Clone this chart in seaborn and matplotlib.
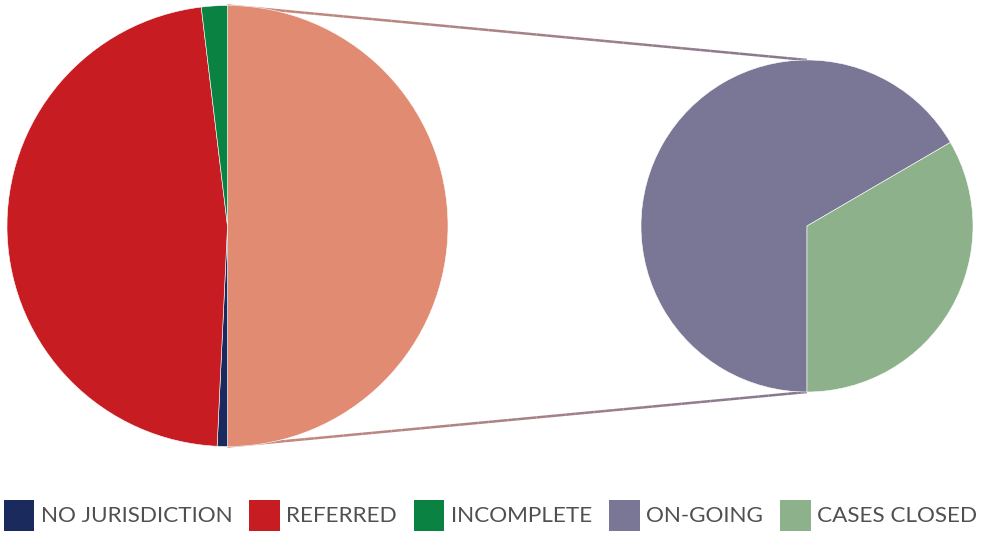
import numpy as np
import matplotlib
matplotlib.use("Agg")
import matplotlib.pyplot as plt
import seaborn as sns
from matplotlib.patches import Patch
from matplotlib.collections import LineCollection
from matplotlib.colors import to_rgb

sns.set_theme(style="white")
plt.rcParams['font.family'] = ['Lato', 'DejaVu Sans']

# Data
main_labels = ["ON-GOING + CASES CLOSED", "NO JURISDICTION", "REFERRED", "INCOMPLETE"]
main_values = [50.0, 0.75, 47.35, 1.9]
main_colors = ["#e08b72", "#1b2a5c", "#c81c23", "#0a8342"]

sub_labels = ["ON-GOING", "CASES CLOSED"]
sub_values = [66.6, 33.4]
sub_colors = ["#797795", "#8db28b"]

legend_labels = ["NO JURISDICTION", "REFERRED", "INCOMPLETE", "ON-GOING", "CASES CLOSED"]
legend_colors = ["#1b2a5c", "#c81c23", "#0a8342", "#797795", "#8db28b"]

W, H = 981, 534
fig = plt.figure(figsize=(W / 100, H / 100), dpi=100)
ax = fig.add_axes([0, 0, 1, 1])

c1 = (227.5, H - 226)
r1 = 220.5
c2 = (807, H - 226)
r2 = 166

ax.pie(main_values, colors=main_colors, startangle=90, counterclock=False,
       center=c1, radius=r1, frame=True,
       wedgeprops=dict(linewidth=0.4, edgecolor='white'))
ax.pie(sub_values, colors=sub_colors, startangle=-90, counterclock=False,
       center=c2, radius=r2, frame=True,
       wedgeprops=dict(linewidth=0.4, edgecolor='white'))
ax.set_xlim(0, W)
ax.set_ylim(0, H)
ax.set_aspect('equal')
ax.axis('off')

# gradient connector lines
def grad_line(p0, p1, col0, col1, n=60):
    xs = np.linspace(p0[0], p1[0], n + 1)
    ys = np.linspace(p0[1], p1[1], n + 1)
    segs = [[(xs[i], ys[i]), (xs[i + 1], ys[i + 1])] for i in range(n)]
    a = np.array(to_rgb(col0)); b = np.array(to_rgb(col1))
    cols = [tuple(a + (b - a) * (i / (n - 1))) for i in range(n)]
    lc = LineCollection(segs, colors=cols, linewidths=1.8, zorder=0.5)
    ax.add_collection(lc)

grad_line((c1[0], c1[1] + r1), (c2[0], c2[1] + r2), "#c98a7c", "#85778f")
grad_line((c1[0], c1[1] - r1), (c2[0], c2[1] - r2), "#c98a7c", "#85778f")

handles = [Patch(facecolor=c, edgecolor='none') for c in legend_colors]
leg = fig.legend(handles, legend_labels, loc='lower center', ncol=5,
                 bbox_to_anchor=(0.5, 0.0), frameon=False,
                 prop=dict(family=['Lato', 'DejaVu Sans'], weight='normal', size=16.2),
                 handlelength=1.35, handleheight=1.75, handletextpad=0.3,
                 columnspacing=0.75, borderaxespad=0.0, borderpad=0.15)
for t in leg.get_texts():
    t.set_color('#505050')

fig.savefig("out.png", dpi=100)
